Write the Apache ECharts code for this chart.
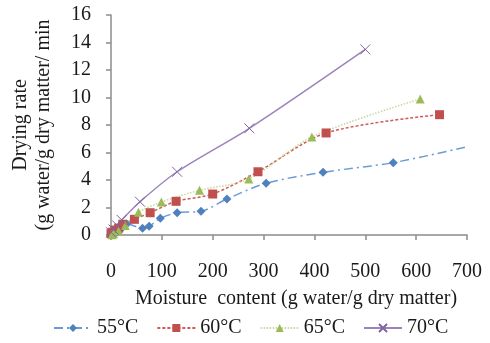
<!DOCTYPE html>
<html>
<head>
<meta charset="utf-8">
<script src="https://cdn.jsdelivr.net/npm/echarts@6/dist/echarts.min.js"></script>
<style>
  html, body { margin: 0; padding: 0; background: #fff; }
  #chart { width: 490px; height: 343px; }
</style>
</head>
<body>
<div id="chart"></div>
<script>
// moisture content (x) and drying rate (y)
const x55 = [3, 10, 18, 31, 62, 75, 97, 130, 177, 228, 305, 417, 555, 700];
const y55 = [0.02, 0.15, 0.36, 0.8, 0.49, 0.63, 1.21, 1.62, 1.72, 2.62, 3.76, 4.56, 5.26, 6.42];
const x60 = [0, 3, 8, 15, 23, 46, 77, 128, 200, 289, 423, 646];
const y60 = [0.1, 0.2, 0.36, 0.5, 0.78, 1.14, 1.62, 2.45, 2.98, 4.6, 7.42, 8.75];
const x65 = [2, 5, 15, 28, 54, 99, 174, 271, 395, 608];
const y65 = [0.02, 0.1, 0.3, 0.7, 1.65, 2.4, 3.25, 4.07, 7.13, 9.89];
const x70 = [0, 5, 12, 21, 57, 130, 272, 500];
const y70 = [0.2, 0.4, 0.7, 1.09, 2.42, 4.6, 7.76, 13.5];
const seriesNames = ["55°C", "60°C", "65°C", "70°C"];

const font = "'Liberation Serif', 'DejaVu Serif', serif";
const axisGray = "#8c8c8c";
const textColor = "#1a1a1a";

function pairs(xs, ys) {
  return xs.map((x, i) => [x, ys[i]]);
}

// last 55°C point has no marker in the original (line runs to the edge)
const d55 = pairs(x55, y55).map((p, i) =>
  i === x55.length - 1 ? { value: p, symbol: "none" } : p
);

const chart = echarts.init(document.getElementById("chart"));

chart.setOption({
  animation: false,
  grid: { left: 111, right: 23, top: 15, bottom: 108 },
  legend: {
    bottom: 0,
    left: 48,
    itemWidth: 38,
    itemHeight: 10,
    itemGap: 18,
    textStyle: { fontFamily: font, fontSize: 20, color: textColor },
    data: seriesNames
  },
  xAxis: {
    type: "value",
    min: 0,
    max: 700,
    interval: 100,
    name: "Moisture  content (g water/g dry matter)",
    nameLocation: "middle",
    nameGap: 54,
    nameTextStyle: { fontFamily: font, fontSize: 20, color: textColor, padding: [0, 0, 0, 14] },
    axisLine: { lineStyle: { color: axisGray, width: 1.5 } },
    axisTick: { show: true, length: 5, lineStyle: { color: axisGray, width: 1.5 } },
    axisLabel: { margin: 27, fontFamily: font, fontSize: 20, color: textColor },
    splitLine: { show: false }
  },
  yAxis: {
    type: "value",
    min: 0,
    max: 16,
    interval: 2,
    name: "Drying rate\n(g water/g dry matter/ min",
    nameLocation: "middle",
    nameGap: 56,
    nameTextStyle: { fontFamily: font, fontSize: 20, color: textColor, lineHeight: 23 },
    axisLine: { show: true, lineStyle: { color: axisGray, width: 1.5 } },
    axisTick: { show: true, length: 5, lineStyle: { color: axisGray, width: 1.5 } },
    axisLabel: { margin: 20, fontFamily: font, fontSize: 20, color: textColor },
    splitLine: { show: false }
  },
  series: [
    {
      name: seriesNames[0],
      type: "line",
      smooth: 0.3,
      data: d55,
      symbol: "diamond",
      symbolSize: 9,
      itemStyle: { color: "#4F81BD" },
      lineStyle: { color: "#6b9bd6", width: 1.5, type: [9, 4, 2, 4] }
    },
    {
      name: seriesNames[1],
      type: "line",
      smooth: 0.3,
      data: pairs(x60, y60),
      symbol: "rect",
      symbolSize: 9,
      itemStyle: { color: "#C0504D" },
      lineStyle: { color: "#d05a57", width: 1.5, type: [3, 2] }
    },
    {
      name: seriesNames[2],
      type: "line",
      smooth: 0.3,
      data: pairs(x65, y65),
      symbol: "triangle",
      symbolSize: 9,
      itemStyle: { color: "#9BBB59" },
      lineStyle: { color: "#c5da9c", width: 1.5, type: [1.5, 1.5] }
    },
    {
      name: seriesNames[3],
      type: "line",
      smooth: 0.3,
      data: pairs(x70, y70),
      symbol: "path://M0,0L10,10M10,0L0,10",
      symbolSize: 10,
      itemStyle: { color: "#8064A2", borderColor: "#8064A2", borderWidth: 1 },
      lineStyle: { color: "#9b84bb", width: 1.5 }
    }
  ]
});
</script>
</body>
</html>
